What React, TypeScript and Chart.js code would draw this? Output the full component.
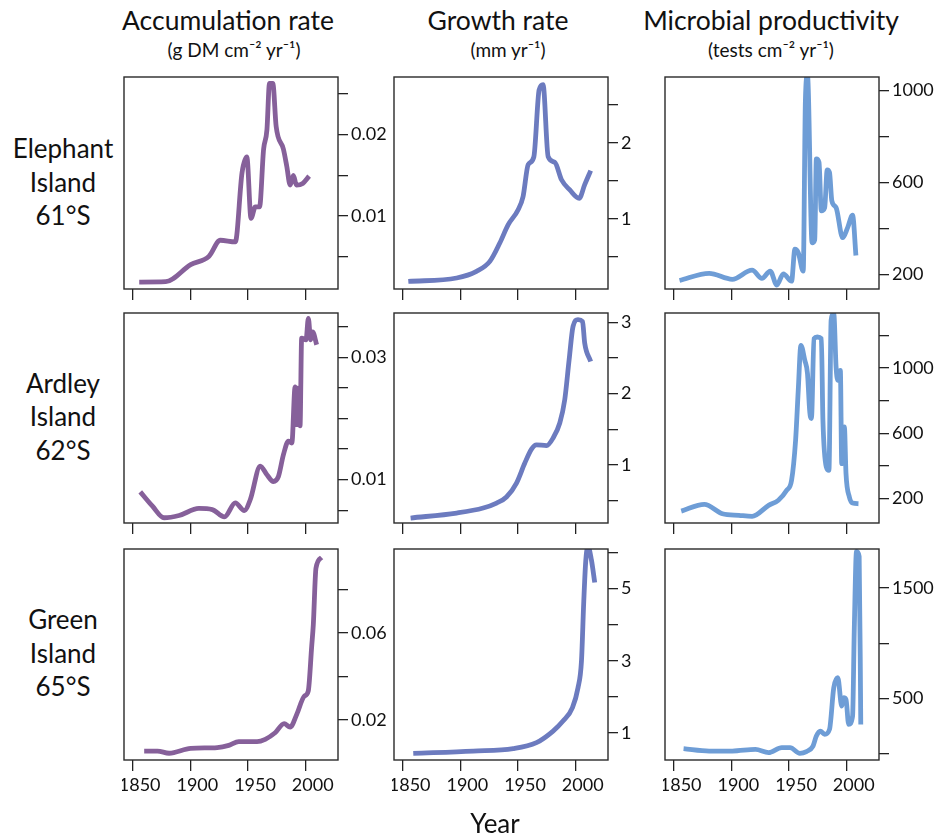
import React, { useEffect, useRef } from "react";
import { Chart, registerables } from "chart.js";

Chart.register(...registerables);

const FONT = "Lato, 'Noto Sans', sans-serif";
const TEXT = "#111111";

// ---- x axis (shared) ----
const yearTicks = [1850, 1900, 1950, 2000];
const yearTickLabels = ["1850", "1900", "1950", "2000"];
const yearMin = 1842.5;
const yearMax = 2028;

// ---- headings ----
const columnTitles = ["Accumulation rate", "Growth rate", "Microbial productivity"];
const columnUnits = ["(g DM cm⁻² yr⁻¹)", "(mm yr⁻¹)", "(tests cm⁻² yr⁻¹)"];
const rowSites = [
  ["Elephant", "Island", "61°S"],
  ["Ardley", "Island", "62°S"],
  ["Green", "Island", "65°S"],
];
const xAxisTitle = "Year";

// ---- Elephant Island ----
const elephantAccYears = [1855.7, 1878.7, 1900.3, 1916, 1926, 1939, 1944.8, 1949, 1952.6, 1956.3, 1960, 1963.5, 1966.4, 1968.6, 1971.5, 1974.4, 1980.7, 1983.6, 1986.5, 1989.3, 1992, 1997.4, 2003];
const elephantAccValues = [0.00185, 0.0019, 0.004, 0.005, 0.007, 0.0068, 0.0153, 0.01725, 0.0097, 0.0111, 0.0111, 0.0182, 0.0206, 0.0263, 0.0263, 0.021, 0.0182, 0.0161, 0.0138, 0.015, 0.0138, 0.014, 0.0149];
const elephantAccTicks = [0.005, 0.01, 0.015, 0.02, 0.025];
const elephantAccTickLabels = ["", "0.01", "", "0.02", ""];

const elephantGrowthYears = [1854.9, 1896.8, 1914, 1925.6, 1934.2, 1941.4, 1950.1, 1954.4, 1958.8, 1963.7, 1968.3, 1971.7, 1976.1, 1981.9, 1987.7, 1994.9, 2003, 2007.8, 2013];
const elephantGrowthValues = [0.174, 0.219, 0.306, 0.438, 0.68, 0.92, 1.12, 1.295, 1.714, 1.815, 2.7, 2.77, 1.82, 1.745, 1.515, 1.38, 1.27, 1.45, 1.635];
const elephantGrowthTicks = [0.5, 1, 1.5, 2, 2.5];
const elephantGrowthTickLabels = ["", "1", "", "2", ""];

const elephantMicroYears = [1855.1, 1880.8, 1900.8, 1918, 1926.5, 1933.7, 1939.4, 1945.1, 1952.2, 1955.1, 1958, 1962.3, 1964.2, 1966, 1970, 1972.3, 1973.7, 1976, 1978, 1980.9, 1983.1, 1985.1, 1987.1, 1990.8, 1996.5, 2000.8, 2005.1, 2008];
const elephantMicroValues = [173, 204, 178, 218, 182, 214, 153, 202, 170, 309, 294, 214, 956, 1065, 337, 350, 702, 687, 476, 490, 654, 643, 520, 490, 359, 403, 457, 282];
const elephantMicroTicks = [200, 400, 600, 800, 1000];
const elephantMicroTickLabels = ["200", "", "600", "", "1000"];

// ---- Ardley Island ----
const ardleyAccYears = [1856.6, 1867.2, 1877.2, 1890.2, 1907.4, 1919, 1929.6, 1939, 1946.8, 1952, 1960.6, 1966.4, 1972, 1976.4, 1980.7, 1985, 1988, 1990.8, 1992.2, 1993.1, 1995.1, 1996.5, 2000.3, 2002.3, 2004.3, 2006, 2009.5];
const ardleyAccValues = [0.008, 0.00565, 0.00376, 0.00413, 0.00528, 0.0051, 0.0039, 0.0062, 0.00495, 0.00675, 0.0122, 0.0108, 0.0097, 0.01055, 0.0141, 0.0163, 0.016, 0.0252, 0.019, 0.025, 0.0188, 0.0332, 0.0329, 0.0364, 0.0329, 0.0342, 0.0321];
const ardleyAccTicks = [0.005, 0.01, 0.015, 0.02, 0.025, 0.03, 0.035];
const ardleyAccTickLabels = ["", "0.01", "", "", "", "0.03", ""];

const ardleyGrowthYears = [1856.9, 1896.8, 1919.8, 1931.4, 1940, 1948.7, 1955.9, 1961.7, 1966, 1974.7, 1980.4, 1986.2, 1990.5, 1994.3, 1997.7, 2002, 2005.9, 2007.8, 2013];
const ardleyGrowthValues = [0.253, 0.323, 0.393, 0.463, 0.548, 0.744, 1.025, 1.22, 1.28, 1.27, 1.376, 1.587, 1.914, 2.476, 2.944, 3.04, 3.014, 2.71, 2.45];
const ardleyGrowthTicks = [0.5, 1, 1.5, 2, 2.5, 3];
const ardleyGrowthTickLabels = ["", "1", "", "2", "", "3"];

const ardleyMicroYears = [1856.6, 1876.6, 1892.3, 1906.6, 1918, 1932.3, 1940.8, 1948, 1952.2, 1955.7, 1958, 1960.3, 1963.7, 1966, 1968, 1969.4, 1971.7, 1974.5, 1978, 1979.4, 1982.3, 1984.6, 1986.5, 1988.8, 1990.8, 1992.2, 1994.5, 1995.7, 1998, 1999.4, 2002.3, 2005.1, 2010.2];
const ardleyMicroValues = [124, 165, 108, 98, 92, 159, 190, 251, 312, 557, 863, 1139, 1047, 966, 731, 690, 1180, 1190, 1180, 680, 394, 373, 1292, 1333, 1006, 925, 986, 414, 639, 353, 210, 173, 169];
const ardleyMicroTicks = [200, 400, 600, 800, 1000, 1200];
const ardleyMicroTickLabels = ["200", "", "600", "", "1000", ""];

// ---- Green Island ----
const greenAccYears = [1860, 1871.5, 1881.6, 1900.3, 1923.3, 1933.3, 1942, 1957.8, 1964.9, 1973.5, 1981.3, 1986.5, 1992.2, 1998.8, 2002.2, 2005.2, 2006.6, 2008.9, 2013.8];
const greenAccValues = [0.0058, 0.0058, 0.0048, 0.007, 0.0074, 0.0084, 0.0101, 0.0101, 0.0112, 0.0142, 0.0184, 0.0168, 0.0226, 0.031, 0.0333, 0.0539, 0.0638, 0.0897, 0.0946];
const greenAccTicks = [0.02, 0.04, 0.06, 0.08];
const greenAccTickLabels = ["0.02", "", "0.06", ""];

const greenGrowthYears = [1859.2, 1911.2, 1945.8, 1966, 1980.4, 1989, 1997.2, 2002, 2005, 2007, 2008.7, 2010.7, 2013.6, 2016.5];
const greenGrowthValues = [0.43, 0.493, 0.56, 0.726, 1.047, 1.324, 1.695, 2.25, 2.99, 4.65, 5.76, 6.17, 5.8, 5.17];
const greenGrowthTicks = [1, 2, 3, 4, 5, 6];
const greenGrowthTickLabels = ["1", "", "3", "", "5", ""];

const greenMicroYears = [1858.6, 1880.8, 1900.8, 1920.9, 1932.3, 1943.7, 1950.9, 1959.4, 1965.1, 1970.8, 1973.7, 1977.1, 1980.9, 1985.1, 1988.8, 1992.3, 1995.7, 1997.4, 1999.4, 2001.7, 2005.1, 2006.6, 2008.5, 2010.8, 2012.2];
const greenMicroValues = [46, 24, 24, 39, 10, 55, 55, 3, 19, 69, 160, 205, 175, 220, 597, 687, 430, 506, 491, 265, 340, 1139, 1830, 1785, 265];
const greenMicroTicks = [0, 500, 1000, 1500];
const greenMicroTickLabels = ["", "500", "", "1500"];

// ---- series colours per column ----
const columnColors = ["#86609a", "#6c7bbf", "#6e9dd6"];

// ---- layout ----
const colLeft = [124, 394, 665];
const BOX_W = 214;
const rowTop = [77, 313, 549];
const rowH = [212, 210, 211];
const Y_AXIS_W = 62;
const PAD = 2;

type PanelDef = {
  years: number[];
  values: number[];
  yMin: number;
  yMax: number;
  ticks: number[];
  labels: string[];
};

const panels: PanelDef[][] = [
  [
    { years: elephantAccYears, values: elephantAccValues, yMin: 0.001, yMax: 0.0271, ticks: elephantAccTicks, labels: elephantAccTickLabels },
    { years: elephantGrowthYears, values: elephantGrowthValues, yMin: 0.074, yMax: 2.87, ticks: elephantGrowthTicks, labels: elephantGrowthTickLabels },
    { years: elephantMicroYears, values: elephantMicroValues, yMin: 136, yMax: 1058, ticks: elephantMicroTicks, labels: elephantMicroTickLabels },
  ],
  [
    { years: ardleyAccYears, values: ardleyAccValues, yMin: 0.0029, yMax: 0.0373, ticks: ardleyAccTicks, labels: ardleyAccTickLabels },
    { years: ardleyGrowthYears, values: ardleyGrowthValues, yMin: 0.183, yMax: 3.132, ticks: ardleyGrowthTicks, labels: ardleyGrowthTickLabels },
    { years: ardleyMicroYears, values: ardleyMicroValues, yMin: 51, yMax: 1337, ticks: ardleyMicroTicks, labels: ardleyMicroTickLabels },
  ],
  [
    { years: greenAccYears, values: greenAccValues, yMin: 0.0017, yMax: 0.0985, ticks: greenAccTicks, labels: greenAccTickLabels },
    { years: greenGrowthYears, values: greenGrowthValues, yMin: 0.244, yMax: 6.1, ticks: greenGrowthTicks, labels: greenGrowthTickLabels },
    { years: greenMicroYears, values: greenMicroValues, yMin: -57, yMax: 1852, ticks: greenMicroTicks, labels: greenMicroTickLabels },
  ],
];

const boxPlugin = {
  id: "panelBox",
  afterDraw(chart: any) {
    const { ctx, chartArea: a } = chart;
    ctx.save();
    ctx.strokeStyle = "#2a2a2a";
    ctx.lineWidth = 1.4;
    ctx.strokeRect(a.left, a.top, a.right - a.left, a.bottom - a.top);
    ctx.restore();
  },
};

function zeroPad(s: any) {
  s.paddingLeft = 0;
  s.paddingRight = 0;
  s.paddingTop = 0;
  s.paddingBottom = 0;
}

function Panel({ def, color, left, top, height, showX }: { def: PanelDef; color: string; left: number; top: number; height: number; showX: boolean }) {
  const ref = useRef<HTMLCanvasElement>(null);
  const xAxisH = showX ? 42 : 14;
  const cw = PAD + BOX_W + Y_AXIS_W;
  const ch = PAD + height + xAxisH;

  useEffect(() => {
    if (!ref.current) return;
    const tickFont = { family: FONT, size: 18 };
    const chart = new Chart(ref.current, {
      type: "line",
      data: {
        datasets: [
          {
            data: def.years.map((x, i) => ({ x, y: def.values[i] })),
            borderColor: color,
            borderWidth: 4.8,
            pointRadius: 0,
            fill: false,
            cubicInterpolationMode: "monotone",
            tension: 0.4,
            clip: 0,
          } as any,
        ],
      },
      options: {
        animation: false,
        responsive: false,
        maintainAspectRatio: false,
        events: [],
        layout: { padding: { top: PAD, left: PAD, right: 0, bottom: 0 } },
        plugins: { legend: { display: false }, tooltip: { enabled: false }, title: { display: false } },
        scales: {
          x: {
            type: "linear",
            position: "bottom",
            min: yearMin,
            max: yearMax,
            afterBuildTicks: (s: any) => {
              s.ticks = yearTicks.map((v) => ({ value: v }));
            },
            afterFit: (s: any) => {
              s.height = xAxisH;
              zeroPad(s);
            },
            grid: { drawOnChartArea: false, drawTicks: true, tickLength: 11, color: "#222", lineWidth: 1.3 },
            border: { display: false },
            ticks: {
              display: showX,
              autoSkip: false,
              maxRotation: 0,
              padding: 3,
              labelOffset: 7,
              color: TEXT,
              font: tickFont,
              callback: (_v: any, i: number) => yearTickLabels[i],
            },
          },
          y: {
            type: "linear",
            position: "right",
            min: def.yMin,
            max: def.yMax,
            afterBuildTicks: (s: any) => {
              s.ticks = def.ticks.map((v) => ({ value: v }));
            },
            afterFit: (s: any) => {
              s.width = Y_AXIS_W;
              zeroPad(s);
            },
            grid: { drawOnChartArea: false, drawTicks: true, tickLength: 10, color: "#222", lineWidth: 1.3 },
            border: { display: false },
            ticks: {
              autoSkip: false,
              padding: 3,
              color: TEXT,
              font: tickFont,
              callback: (_v: any, i: number) => def.labels[i],
            },
          },
        },
      } as any,
      plugins: [boxPlugin],
    });
    return () => chart.destroy();
  }, []);

  return (
    <canvas
      ref={ref}
      width={cw}
      height={ch}
      style={{ position: "absolute", left: left - PAD, top: top - PAD, width: cw, height: ch }}
    />
  );
}

const titleCenters = [228, 498, 771];
const unitCenters = [234, 508, 771];
const rowLabelCenters = [182, 416.5, 653];

export default function App() {
  return (
    <div style={{ position: "absolute", left: 0, top: 0, width: 939, height: 837, background: "#fff", fontFamily: FONT, color: TEXT }}>
      {columnTitles.map((t, i) => (
        <div key={"t" + i} style={{ position: "absolute", left: titleCenters[i], top: 20 - 15, transform: "translateX(-50%)", fontSize: 26.5, lineHeight: "30px", whiteSpace: "nowrap" }}>
          {t}
        </div>
      ))}
      {columnUnits.map((t, i) => (
        <div key={"u" + i} style={{ position: "absolute", left: unitCenters[i], top: 50 - 11, transform: "translateX(-50%)", fontSize: 19, lineHeight: "22px", whiteSpace: "nowrap" }}>
          {t}
        </div>
      ))}
      {rowSites.map((lines, r) => (
        <div key={"r" + r} style={{ position: "absolute", left: 63, top: rowLabelCenters[r] - 50, transform: "translateX(-50%)", fontSize: 26, lineHeight: "33.5px", textAlign: "center", whiteSpace: "nowrap" }}>
          {lines.map((l, k) => (
            <div key={k}>{l}</div>
          ))}
        </div>
      ))}
      {panels.map((row, r) =>
        row.map((def, c) => (
          <Panel key={r + "-" + c} def={def} color={columnColors[c]} left={colLeft[c]} top={rowTop[r]} height={rowH[r]} showX={r === 2} />
        ))
      )}
      <div style={{ position: "absolute", left: 495, top: 823 - 15, transform: "translateX(-50%)", fontSize: 26, lineHeight: "30px" }}>
        {xAxisTitle}
      </div>
    </div>
  );
}
